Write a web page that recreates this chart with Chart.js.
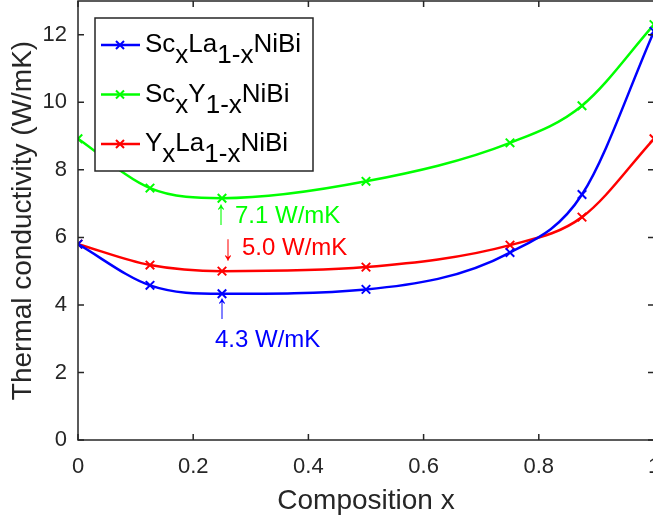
<!DOCTYPE html>
<html>
<head>
<meta charset="utf-8">
<script src="https://cdn.jsdelivr.net/npm/chart.js@4/dist/chart.umd.min.js"></script>
<style>
  html, body { margin: 0; padding: 0; background: #fff; overflow: hidden; }
</style>
</head>
<body>
<canvas id="kappaChart" width="680" height="520"></canvas>
<script>
// composition x of each sample
const compX = [0, 0.125, 0.25, 0.5, 0.75, 0.875, 1];
// thermal conductivity (W/mK)
const scLa = [5.8, 4.58, 4.33, 4.46, 5.55, 7.27, 12.1];
const scY = [8.92, 7.46, 7.16, 7.66, 8.8, 9.9, 12.3];
const yLa = [5.8, 5.18, 5.0, 5.12, 5.77, 6.6, 8.92];

const seriesNames = ['Sc_{x}La_{1-x}NiBi', 'Sc_{x}Y_{1-x}NiBi', 'Y_{x}La_{1-x}NiBi'];
const seriesColors = ['#0000ff', '#00ff00', '#ff0000'];

const noteArrows = ['\u2191', '\u2193', '\u2191'];
const noteTexts = ['7.1 W/mK', '5.0 W/mK', '4.3 W/mK'];

const xTicks = [0, 0.2, 0.4, 0.6, 0.8, 1];
const yTicks = [0, 2, 4, 6, 8, 10, 12];

const FONT = "'Liberation Sans', Arial, Helvetica, sans-serif";
const AXIS_COLOR = '#262626';

const toPoints = (ys) => compX.map((x, i) => ({ x: x, y: ys[i] }));

function makeSet(name, ys, color) {
  return {
    label: name,
    data: toPoints(ys),
    showLine: true,
    borderColor: color,
    backgroundColor: color,
    borderWidth: 2.5,
    pointStyle: 'crossRot',
    pointRadius: 6,
    pointBorderWidth: 2,
    pointBorderColor: color,
    cubicInterpolationMode: 'monotone',
  };
}

// draws an arrow glyph stretched to fill top..bottom
function drawArrow(ctx, ch, cx, top, bottom) {
  const m = ctx.measureText(ch);
  const asc = m.actualBoundingBoxAscent;
  const h = asc + m.actualBoundingBoxDescent;
  ctx.save();
  ctx.translate(cx, top);
  ctx.scale(1, (bottom - top) / h);
  ctx.textAlign = 'center';
  ctx.fillText(ch, 0, asc);
  ctx.restore();
}

// matlab style box with inward ticks, plus the text notes
const boxPlugin = {
  id: 'boxPlugin',
  afterDatasetsDraw(chart) {
    const { ctx, chartArea: a, scales } = chart;
    const xs = scales.x;
    const ys = scales.y;
    ctx.save();
    ctx.strokeStyle = AXIS_COLOR;
    ctx.lineWidth = 1.5;
    ctx.strokeRect(a.left, a.top, a.right - a.left, a.bottom - a.top);
    const tl = 6;
    ctx.beginPath();
    xTicks.forEach((v) => {
      const px = xs.getPixelForValue(v);
      ctx.moveTo(px, a.bottom); ctx.lineTo(px, a.bottom - tl);
      ctx.moveTo(px, a.top); ctx.lineTo(px, a.top + tl);
    });
    yTicks.forEach((v) => {
      const py = ys.getPixelForValue(v);
      ctx.moveTo(a.left, py); ctx.lineTo(a.left + tl, py);
      ctx.moveTo(a.right, py); ctx.lineTo(a.right - tl, py);
    });
    ctx.stroke();

    // notes at the minimum (x = 0.25)
    const px = xs.getPixelForValue(compX[2]);
    const gy = ys.getPixelForValue(scY[2]);
    const ry = ys.getPixelForValue(yLa[2]);
    const by = ys.getPixelForValue(scLa[2]);
    const notes = [
      { color: seriesColors[1], ax: px - 1, a0: gy + 5, a1: gy + 27, tx: px + 13, ty: gy + 25 },
      { color: seriesColors[2], ax: px + 6, a0: ry - 33, a1: ry - 10, tx: px + 20, ty: ry - 16 },
      { color: seriesColors[0], ax: px, a0: by + 4, a1: by + 26, tx: px - 7, ty: by + 53 },
    ];
    ctx.textBaseline = 'alphabetic';
    ctx.font = '24px ' + FONT;
    notes.forEach((n, i) => {
      ctx.fillStyle = n.color;
      drawArrow(ctx, noteArrows[i], n.ax, n.a0, n.a1);
      ctx.textAlign = 'left';
      ctx.fillText(noteTexts[i], n.tx, n.ty);
    });
    ctx.restore();
  },
  afterDraw(chart) {
    // legend with subscripts
    const { ctx } = chart;
    ctx.save();
    ctx.fillStyle = '#fff';
    ctx.fillRect(95, 18, 218, 153);
    ctx.strokeStyle = AXIS_COLOR;
    ctx.lineWidth = 1.5;
    ctx.strokeRect(95, 18, 218, 153);
    ctx.font = '26px ' + FONT;
    ctx.textAlign = 'left';
    ctx.textBaseline = 'alphabetic';
    seriesNames.forEach((name, i) => {
      const rowY = 45 + i * 49.5;
      const c = seriesColors[i];
      ctx.strokeStyle = c;
      ctx.lineWidth = 2.5;
      ctx.beginPath();
      ctx.moveTo(101, rowY); ctx.lineTo(140, rowY);
      ctx.stroke();
      ctx.lineWidth = 2;
      ctx.beginPath();
      ctx.moveTo(116, rowY - 4); ctx.lineTo(124, rowY + 4);
      ctx.moveTo(116, rowY + 4); ctx.lineTo(124, rowY - 4);
      ctx.stroke();
      ctx.fillStyle = '#000';
      let x = 145;
      const parts = name.split(/(_\{[^}]*\})/).filter((p) => p.length);
      parts.forEach((p) => {
        if (p.startsWith('_{')) {
          const s = p.slice(2, -1);
          ctx.fillText(s, x, rowY + 18);
          x += ctx.measureText(s).width;
        } else {
          ctx.fillText(p, x, rowY + 7);
          x += ctx.measureText(p).width;
        }
      });
    });
    ctx.restore();
  },
};

Chart.defaults.font.family = FONT;
Chart.defaults.color = AXIS_COLOR;

const canvas = document.getElementById('kappaChart');
new Chart(canvas, {
  type: 'scatter',
  data: {
    datasets: [
      makeSet(seriesNames[0], scLa, seriesColors[0]),
      makeSet(seriesNames[1], scY, seriesColors[1]),
      makeSet(seriesNames[2], yLa, seriesColors[2]),
    ],
  },
  options: {
    responsive: false,
    animation: false,
    layout: { autoPadding: false, padding: { left: 0, top: 1, right: 26, bottom: 0 } },
    plugins: {
      legend: { display: false },
      tooltip: { enabled: false },
    },
    scales: {
      x: {
        type: 'linear',
        min: 0,
        max: 1,
        grid: { display: false, drawTicks: false },
        border: { display: false },
        afterBuildTicks: (scale) => { scale.ticks = xTicks.map((v) => ({ value: v })); },
        afterFit: (scale) => {
          scale.height = 80;
          scale.paddingLeft = 0;
          scale.paddingRight = 0;
        },
        ticks: {
          padding: 14,
          maxRotation: 0,
          font: { size: 22 },
          color: AXIS_COLOR,
          callback: (v) => String(Math.round(v * 10) / 10),
        },
        title: {
          display: true,
          text: 'Composition x',
          color: AXIS_COLOR,
          font: { size: 28, lineHeight: 1 },
          padding: { top: 0, bottom: 5 },
        },
      },
      y: {
        min: 0,
        max: 13,
        grid: { display: false, drawTicks: false },
        border: { display: false },
        afterBuildTicks: (scale) => { scale.ticks = yTicks.map((v) => ({ value: v })); },
        afterFit: (scale) => {
          scale.width = 78;
          scale.paddingTop = 0;
          scale.paddingBottom = 0;
        },
        ticks: {
          padding: 11,
          font: { size: 22 },
          color: AXIS_COLOR,
        },
        title: {
          display: true,
          text: 'Thermal conductivity (W/mK)',
          color: AXIS_COLOR,
          font: { size: 28, lineHeight: 1 },
          padding: { top: 9, bottom: 0 },
        },
      },
    },
  },
  plugins: [boxPlugin],
});
</script>
</body>
</html>
